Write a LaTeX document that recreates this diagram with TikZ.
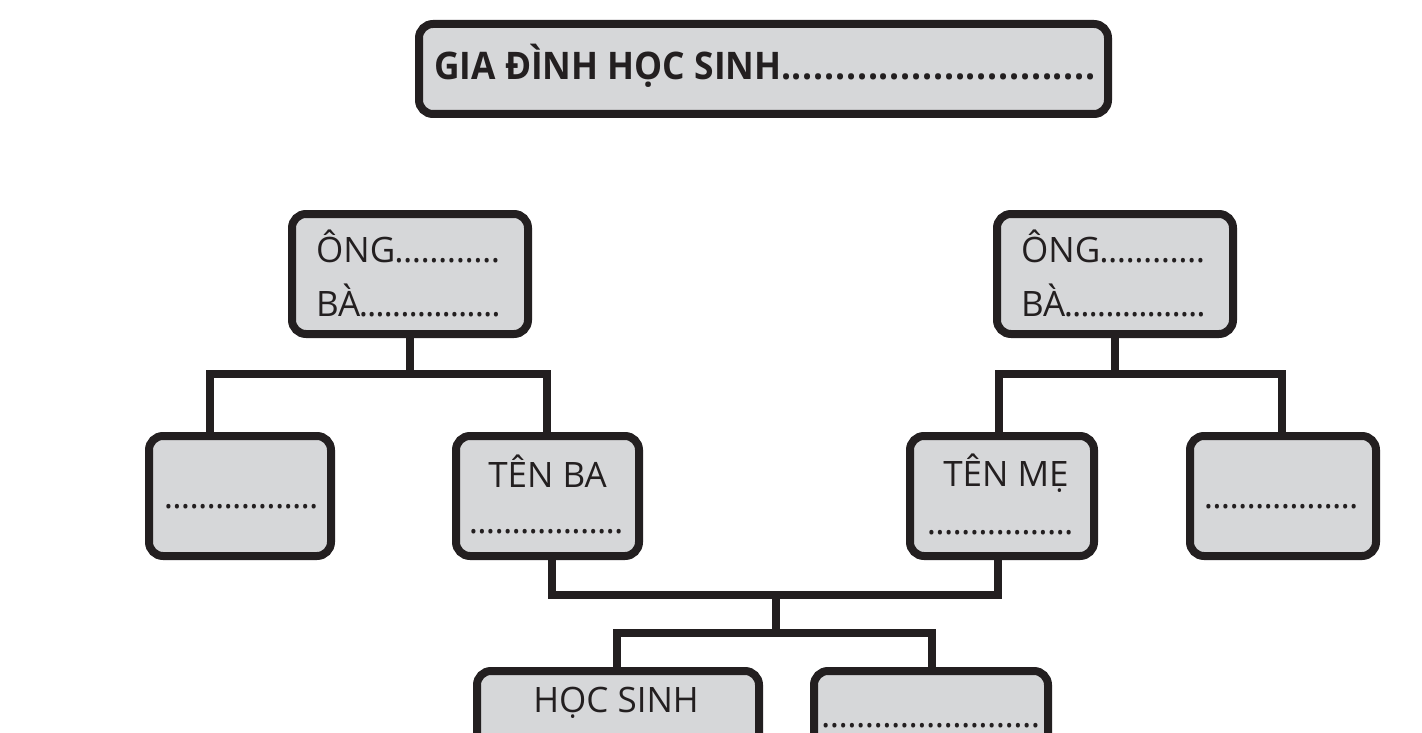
\documentclass[tikz,border=0pt]{standalone}
\usepackage{fontspec}
\setmainfont{Open Sans}
\newfontfamily\titlefont{Open Sans}[FakeStretch=0.93]
\definecolor{boxfill}{HTML}{D6D7D9}
\definecolor{ink}{HTML}{231F20}
\newcommand\dotrow[3]{\makebox[#1][l]{#3\kern-1pt\xleaders\hbox to #2{\hss.\hss}\hfill}}
\begin{document}
\begin{tikzpicture}[x=1pt,y=-1pt,
  fambox/.style={draw=ink,fill=boxfill,line width=8pt,rounded corners=14pt,
    rectangle,inner sep=0pt},
  link/.style={draw=ink,line width=8pt,line join=miter},
  txt/.style={text=ink,inner sep=0pt,font=\fontsize{35}{40}\selectfont},
  ttl/.style={text=ink,inner sep=0pt,font=\titlefont\bfseries\fontsize{38}{44}\selectfont}]
\useasboundingbox[fill=white] (0,0) rectangle (1422,733);
% boxes
\node[fambox,minimum width=689pt,minimum height=90pt] (title) at (763.5,69) {};
\node[fambox,minimum width=236pt,minimum height=120pt] (gpL) at (410,274) {};
\node[fambox,minimum width=236pt,minimum height=120pt] (gpR) at (1115,274) {};
\node[fambox,minimum width=182pt,minimum height=120pt] (blankL) at (240,496) {};
\node[fambox,minimum width=183pt,minimum height=120pt] (tenba) at (547.5,496) {};
\node[fambox,minimum width=184pt,minimum height=120pt] (tenme) at (1002,496) {};
\node[fambox,minimum width=186pt,minimum height=120pt] (blankR) at (1283,496) {};
\node[fambox,minimum width=282pt,minimum height=120pt] (hocsinh) at (618,731) {};
\node[fambox,minimum width=234pt,minimum height=120pt] (sibling) at (931,731) {};
% connectors
\coordinate (gl) at (410,374);
\coordinate (gr) at (1115,374);
\coordinate (par) at (776,595);
\coordinate (kid) at (776,633);
\draw[link] (gpL.south) -- (gl);
\draw[link] ([xshift=-30pt]blankL.north) |- (gl) -| ([xshift=-0.5pt]tenba.north);
\draw[link] (gpR.south) -- (gr);
\draw[link] ([xshift=-3pt]tenme.north) |- (gr) -| ([xshift=-1pt]blankR.north);
\draw[link] ([xshift=4.5pt]tenba.south) |- (par) -| ([xshift=-4pt]tenme.south);
\draw[link] (par) -- (kid);
\draw[link] ([xshift=-1pt]hocsinh.north) |- (kid) -| ([xshift=1pt]sibling.north);
% texts
\node[ttl,anchor=base west] (ttext) at (434,80) {\dotrow{662pt}{10.8pt}{GIA ĐÌNH HỌC SINH}};
\node[txt,anchor=base west] (ongL) at (316,262) {\dotrow{184pt}{8.2pt}{ÔNG}};
\node[txt,anchor=base west] (baL) at (316,316) {\dotrow{184pt}{8.2pt}{BÀ}};
\node[txt,anchor=base west] (ongR) at (1021,262) {\dotrow{184pt}{8.2pt}{ÔNG}};
\node[txt,anchor=base west] (baR) at (1021,316) {\dotrow{184pt}{8.2pt}{BÀ}};
\node[txt,anchor=base] (tbtext) at (547.5,487) {TÊN BA};
\node[txt,anchor=base west] (tbdots) at (470,533) {\dotrow{153pt}{8.5pt}{}};
\node[txt,anchor=base] (tmtext) at (1006,486) {TÊN MẸ};
\node[txt,anchor=base west] (tmdots) at (928,534) {\dotrow{145pt}{8.5pt}{}};
\node[txt,anchor=base west] (bldots) at (165,508) {\dotrow{153pt}{8.5pt}{}};
\node[txt,anchor=base west] (brdots) at (1205,508) {\dotrow{153pt}{8.5pt}{}};
\node[txt,anchor=base] (hstext) at (616,712) {HỌC SINH};
\node[txt,anchor=base west] (sbdots) at (822,727) {\dotrow{218pt}{8.5pt}{}};
\end{tikzpicture}
\end{document}
